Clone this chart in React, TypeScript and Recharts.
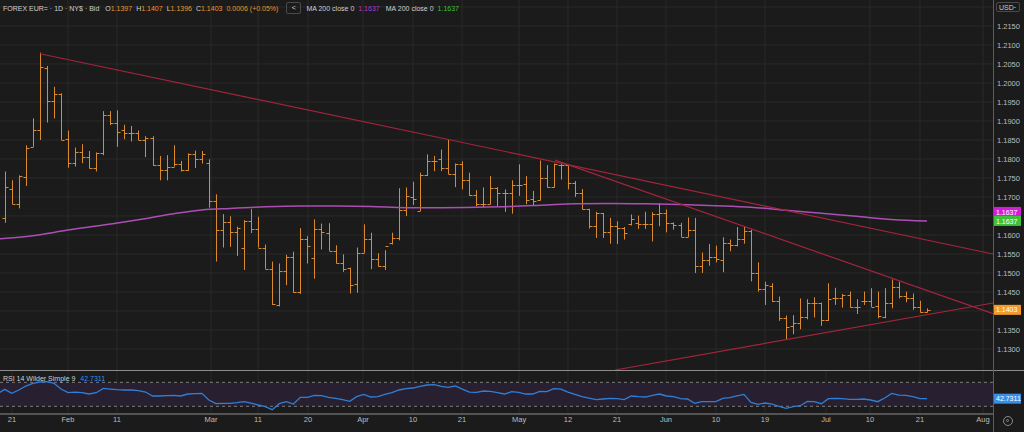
import {
  ComposedChart, Bar, Line, XAxis, YAxis, CartesianGrid,
  ReferenceLine, ReferenceArea,
} from 'recharts'

// daily OHLC, bar 0 is the first visible bar
const opens = [
  1.1646, 1.1722, 1.1682, 1.1753, 1.1832, 1.1875, 1.2040, 1.1953, 1.1972, 1.1852,
  1.1790, 1.1819, 1.1806, 1.1775, 1.1817, 1.1915, 1.1894, 1.1876, 1.1869, 1.1869,
  1.1851, 1.1854, 1.1783, 1.1772, 1.1780, 1.1786, 1.1770, 1.1812, 1.1799, 1.1790,
  1.1689, 1.1613, 1.1633, 1.1609, 1.1567, 1.1638, 1.1615, 1.1567, 1.1511, 1.1415,
  1.1505, 1.1542, 1.1451, 1.1589, 1.1540, 1.1615, 1.1606, 1.1558, 1.1527, 1.1512,
  1.1470, 1.1553, 1.1589, 1.1538, 1.1518, 1.1578, 1.1593, 1.1665, 1.1700, 1.1663,
  1.1758, 1.1796, 1.1801, 1.1777, 1.1761, 1.1786, 1.1744, 1.1704, 1.1682, 1.1682,
  1.1723, 1.1711, 1.1711, 1.1732, 1.1735, 1.1694, 1.1691, 1.1751, 1.1725, 1.1784,
  1.1784, 1.1737, 1.1711, 1.1668, 1.1623, 1.1658, 1.1607, 1.1623, 1.1618, 1.1630,
  1.1632, 1.1630, 1.1630, 1.1654, 1.1658, 1.1632, 1.1627, 1.1596, 1.1614, 1.1519,
  1.1535, 1.1542, 1.1535, 1.1579, 1.1573, 1.1590, 1.1610, 1.1499, 1.1457, 1.1467,
  1.1425, 1.1381, 1.1361, 1.1369, 1.1385, 1.1420, 1.1422, 1.1375, 1.1433, 1.1433,
  1.1442, 1.1411, 1.1425, 1.1425, 1.1413, 1.1385, 1.1420, 1.1464, 1.1439, 1.1433,
  1.1411, 1.1397,
]
const highs = [
  1.1767, 1.1744, 1.1757, 1.1836, 1.1907, 1.2080, 1.2045, 1.1990, 1.1973, 1.1875,
  1.1830, 1.1839, 1.1821, 1.1817, 1.1926, 1.1926, 1.1928, 1.1890, 1.1887, 1.1875,
  1.1860, 1.1860, 1.1808, 1.1810, 1.1836, 1.1795, 1.1815, 1.1822, 1.1821, 1.1799,
  1.1707, 1.1655, 1.1649, 1.1622, 1.1639, 1.1668, 1.1648, 1.1575, 1.1530, 1.1525,
  1.1548, 1.1556, 1.1618, 1.1597, 1.1641, 1.1630, 1.1631, 1.1573, 1.1549, 1.1514,
  1.1567, 1.1628, 1.1606, 1.1552, 1.1560, 1.1606, 1.1723, 1.1725, 1.1740, 1.1764,
  1.1812, 1.1808, 1.1825, 1.1852, 1.1788, 1.1794, 1.1764, 1.1718, 1.1725, 1.1755,
  1.1726, 1.1720, 1.1744, 1.1786, 1.1755, 1.1716, 1.1796, 1.1784, 1.1788, 1.1790,
  1.1786, 1.1742, 1.1721, 1.1669, 1.1661, 1.1658, 1.1645, 1.1636, 1.1621, 1.1654,
  1.1651, 1.1661, 1.1660, 1.1684, 1.1667, 1.1633, 1.1632, 1.1646, 1.1645, 1.1554,
  1.1576, 1.1572, 1.1594, 1.1588, 1.1621, 1.1621, 1.1614, 1.1528, 1.1477, 1.1473,
  1.1438, 1.1388, 1.1389, 1.1433, 1.1431, 1.1436, 1.1422, 1.1473, 1.1461, 1.1445,
  1.1451, 1.1431, 1.1451, 1.1460, 1.1451, 1.1460, 1.1483, 1.1477, 1.1451, 1.1446,
  1.1427, 1.1407,
]
const lows = [
  1.1632, 1.1681, 1.1670, 1.1729, 1.1832, 1.1850, 1.1896, 1.1907, 1.1850, 1.1777,
  1.1780, 1.1789, 1.1775, 1.1767, 1.1810, 1.1889, 1.1832, 1.1852, 1.1846, 1.1850,
  1.1805, 1.1782, 1.1744, 1.1744, 1.1780, 1.1767, 1.1769, 1.1776, 1.1788, 1.1672,
  1.1530, 1.1567, 1.1569, 1.1545, 1.1508, 1.1605, 1.1567, 1.1511, 1.1416, 1.1412,
  1.1468, 1.1448, 1.1445, 1.1525, 1.1485, 1.1562, 1.1558, 1.1525, 1.1503, 1.1446,
  1.1448, 1.1553, 1.1510, 1.1517, 1.1508, 1.1575, 1.1586, 1.1650, 1.1679, 1.1663,
  1.1755, 1.1768, 1.1768, 1.1760, 1.1726, 1.1720, 1.1703, 1.1676, 1.1672, 1.1681,
  1.1676, 1.1661, 1.1656, 1.1703, 1.1681, 1.1676, 1.1691, 1.1725, 1.1725, 1.1746,
  1.1720, 1.1700, 1.1667, 1.1617, 1.1592, 1.1592, 1.1577, 1.1576, 1.1588, 1.1625,
  1.1616, 1.1616, 1.1583, 1.1623, 1.1607, 1.1614, 1.1595, 1.1595, 1.1500, 1.1500,
  1.1519, 1.1528, 1.1502, 1.1557, 1.1570, 1.1577, 1.1478, 1.1451, 1.1416, 1.1424,
  1.1374, 1.1325, 1.1339, 1.1352, 1.1378, 1.1383, 1.1361, 1.1374, 1.1416, 1.1409,
  1.1409, 1.1392, 1.1416, 1.1411, 1.1381, 1.1381, 1.1407, 1.1433, 1.1423, 1.1403,
  1.1396, 1.1396,
]
const closes = [
  1.1725, 1.1682, 1.1755, 1.1828, 1.1875, 1.2042, 1.1953, 1.1970, 1.1850, 1.1790,
  1.1819, 1.1806, 1.1775, 1.1817, 1.1915, 1.1894, 1.1872, 1.1869, 1.1869, 1.1851,
  1.1854, 1.1783, 1.1772, 1.1780, 1.1786, 1.1770, 1.1812, 1.1799, 1.1814, 1.1689,
  1.1613, 1.1633, 1.1609, 1.1619, 1.1638, 1.1615, 1.1567, 1.1511, 1.1418, 1.1504,
  1.1542, 1.1451, 1.1589, 1.1571, 1.1615, 1.1609, 1.1558, 1.1527, 1.1510, 1.1468,
  1.1553, 1.1589, 1.1538, 1.1518, 1.1570, 1.1593, 1.1665, 1.1703, 1.1696, 1.1758,
  1.1796, 1.1796, 1.1777, 1.1761, 1.1786, 1.1744, 1.1704, 1.1682, 1.1682, 1.1723,
  1.1711, 1.1711, 1.1732, 1.1732, 1.1691, 1.1689, 1.1749, 1.1726, 1.1786, 1.1784,
  1.1737, 1.1711, 1.1668, 1.1623, 1.1658, 1.1607, 1.1623, 1.1618, 1.1605, 1.1642,
  1.1630, 1.1630, 1.1654, 1.1658, 1.1632, 1.1627, 1.1596, 1.1614, 1.1519, 1.1535,
  1.1542, 1.1537, 1.1579, 1.1573, 1.1590, 1.1610, 1.1499, 1.1457, 1.1468, 1.1425,
  1.1381, 1.1357, 1.1369, 1.1383, 1.1420, 1.1422, 1.1375, 1.1431, 1.1433, 1.1442,
  1.1411, 1.1411, 1.1425, 1.1411, 1.1387, 1.1420, 1.1464, 1.1439, 1.1433, 1.1411,
  1.1398, 1.1403,
]
const rsiValues = [
  58.3, 51.6, 57.2, 63.8, 68.3, 70.5, 71.1, 68.3, 58.8, 52.7,
  53.8, 52.7, 50.5, 52.7, 59.9, 58.8, 57.7, 57.2, 57.2, 56.1,
  53.8, 47.2, 47.2, 47.7, 48.3, 47.2, 50.5, 51.1, 51.6, 40.5,
  34.4, 35.0, 35.0, 36.1, 37.7, 35.5, 32.2, 29.4, 24.4, 34.4,
  37.7, 33.8, 44.9, 44.9, 48.3, 47.7, 44.9, 43.3, 41.1, 38.3,
  46.1, 49.9, 45.5, 46.1, 49.9, 52.7, 57.2, 59.4, 60.5, 63.3,
  65.5, 66.0, 63.3, 61.6, 63.8, 58.8, 53.8, 53.3, 55.5, 54.9,
  52.7, 50.5, 54.4, 53.3, 50.5, 50.5, 54.9, 54.4, 59.4, 58.8,
  53.8, 49.9, 46.1, 43.8, 41.1, 42.2, 43.3, 42.7, 41.1, 47.2,
  46.1, 45.5, 48.3, 50.5, 47.2, 46.1, 42.7, 42.2, 35.0, 37.7,
  37.7, 37.7, 43.3, 44.4, 47.2, 49.9, 36.6, 33.3, 35.5, 33.8,
  30.0, 26.6, 29.4, 31.0, 38.3, 37.7, 34.4, 42.7, 43.3, 42.7,
  41.6, 41.6, 42.2, 40.5, 37.7, 43.8, 51.6, 48.8, 48.3, 46.1,
  42.7, 42.7,
]

// MA 200 read at a handful of bars
const maBars = [-1, 4, 9, 14, 19, 24, 28, 32, 37, 42, 47, 52, 57, 62, 67, 72, 77, 81, 86, 91, 96, 101, 106, 111, 116, 121, 126, 131]
const maValues = [
  1.1590, 1.1598, 1.1613, 1.1626, 1.1640, 1.1656, 1.1666, 1.1670, 1.1674, 1.1676,
  1.1676, 1.1675, 1.1672, 1.1672, 1.1673, 1.1675, 1.1679, 1.1682, 1.1683, 1.1682,
  1.1680, 1.1677, 1.1673, 1.1665, 1.1657, 1.1649, 1.1641, 1.1637,
]

const tickBars = [1.04, 8.99, 15.95, 29.3, 35.98, 43.08, 50.89, 58, 64.96, 73.06, 80.01, 86.97, 93.93, 101.04, 108, 116.66, 122.91, 130.01, 138.96]
const tickLabels = ['21', 'Feb', '11', 'Mar', '11', '20', 'Apr', '10', '21', 'May', '12', '21', 'Jun', '10', '19', 'Jul', '10', '21', 'Aug']

const priceTicks = [1.215, 1.21, 1.205, 1.2, 1.195, 1.19, 1.185, 1.18, 1.175, 1.17, 1.16, 1.155, 1.15, 1.145, 1.135, 1.13]
const priceGrid = [1.22, 1.215, 1.21, 1.205, 1.2, 1.195, 1.19, 1.185, 1.18, 1.175, 1.17, 1.165, 1.16, 1.155, 1.15, 1.145, 1.14, 1.135, 1.13]

// trend lines: [bar, price] endpoints
const trendLines = [
  [[5.01, 1.2077], [140.38, 1.155]],
  [[78.17, 1.1797], [140.38, 1.1393]],
  [[86.69, 1.12447], [140.38, 1.1421]],
]

const maLast = 1.1637
const lastClose = 1.1403
const rsiLast = 42.7311

const BG = '#1b1b1b'
const GRID = '#2a2a2a'
const BAR = '#db8a2e'
const TREND = '#a3243d'
const AXIS_TEXT = '#bdbdbd'
const HDR_TEXT = '#cfcfcf'
const ORANGE = '#e8952e'
const FONT = '"Liberation Sans", Arial, sans-serif'
const X_DOMAIN = [-0.668, 140.38]

const maMap = new Map(maBars.map((b, k) => [b, maValues[k]]))
const rows = [
  { i: -1, ma: maMap.get(-1), rsi: 51.0 },
  ...opens.map((o, i) => ({
    i, o, h: highs[i], l: lows[i], c: closes[i],
    rsi: rsiValues[i],
    ma: maMap.has(i) ? maMap.get(i) : null,
  })),
]

function OhlcBar(props: any) {
  const { x, y, width, height, payload } = props
  if (!payload || payload.h == null || !isFinite(y) || !isFinite(height)) return <g />
  const cx = Math.round(x + width / 2) + 0.5
  const top = Math.min(y, y + height)
  const bottom = Math.max(y, y + height)
  const span = payload.h - payload.l || 1e-9
  const at = (v: number) => Math.round(top + ((payload.h - v) / span) * (bottom - top)) + 0.5
  return (
    <g stroke={BAR} strokeWidth={1}>
      <line x1={cx} x2={cx} y1={top} y2={Math.max(bottom, top + 1)} />
      <line x1={cx - 3} x2={cx} y1={at(payload.o)} y2={at(payload.o)} />
      <line x1={cx} x2={cx + 3} y1={at(payload.c)} y2={at(payload.c)} />
    </g>
  )
}

function ValueTag(props: any) {
  const { viewBox, text, fill, color = '#fff', dy = 0 } = props
  if (!viewBox) return null
  const x = viewBox.x + viewBox.width + 1
  const y = viewBox.y + dy
  return (
    <g>
      <rect x={x} y={y - 5} width={27} height={10} fill={fill} />
      <text x={x + 2} y={y + 2.6} fontSize={7} fill={color} fontFamily={FONT}>{text}</text>
    </g>
  )
}

export default function App() {
  return (
    <div style={{ position: 'fixed', left: 0, top: 0, width: 1024, height: 432, background: BG, overflow: 'hidden', fontFamily: FONT }}>
      <div style={{ position: 'absolute', left: 0, top: 0 }}>
        <ComposedChart width={1024} height={370} data={rows} margin={{ top: 0, right: 0, bottom: 0, left: 0 }}>
          <CartesianGrid stroke={GRID} horizontalValues={priceGrid} verticalValues={tickBars} />
          <XAxis dataKey="i" type="number" domain={X_DOMAIN} allowDataOverflow hide />
          <YAxis
            orientation="right" width={31} domain={[1.12447, 1.22184]} allowDataOverflow
            ticks={priceTicks} interval={0} tickFormatter={(v: number) => v.toFixed(4)}
            tick={{ fill: AXIS_TEXT, fontSize: 7.5, fontFamily: FONT }}
            tickLine={false} axisLine={false} tickSize={0} tickMargin={4}
          />
          <Line dataKey="ma" type="monotone" stroke="#ab4fb3" strokeWidth={1.5} dot={false} connectNulls isAnimationActive={false} />
          <Bar dataKey={(d: any) => (d.h == null ? null : [d.l, d.h])} barSize={7} shape={<OhlcBar />} isAnimationActive={false} />
          {trendLines.map((t, k) => (
            <ReferenceLine key={k} segment={[{ x: t[0][0], y: t[0][1] }, { x: t[1][0], y: t[1][1] }]} stroke={TREND} strokeWidth={1.2} ifOverflow="visible" />
          ))}
          <ReferenceLine y={maLast} stroke="none" ifOverflow="visible" label={<ValueTag text="1.1637" fill="#d41ed6" dy={-9} />} />
          <ReferenceLine y={maLast} stroke="none" ifOverflow="visible" label={<ValueTag text="1.1637" fill="#3fbf3a" />} />
          <ReferenceLine y={lastClose} stroke="none" ifOverflow="visible" label={<ValueTag text="1.1403" fill="#f39a2c" />} />
        </ComposedChart>
      </div>

      <div style={{ position: 'absolute', left: 0, top: 370 }}>
        <ComposedChart width={1024} height={62} data={rows} margin={{ top: 0, right: 0, bottom: 0, left: 0 }}>
          <CartesianGrid stroke={GRID} horizontal={false} verticalValues={tickBars} />
          <XAxis
            dataKey="i" type="number" domain={X_DOMAIN} allowDataOverflow
            ticks={tickBars} interval={0}
            tickFormatter={(v: number) => tickLabels[tickBars.indexOf(v)] ?? ''}
            tick={{ fill: AXIS_TEXT, fontSize: 7.5, fontFamily: FONT }}
            tickLine={false} axisLine={{ stroke: '#8c8c8c' }} tickSize={0} tickMargin={3} height={18}
          />
          <YAxis
            orientation="right" width={31} domain={[17.2, 90.5]} allowDataOverflow
            ticks={[80]} tickFormatter={(v: number) => v.toFixed(4)}
            tick={{ fill: AXIS_TEXT, fontSize: 7.5, fontFamily: FONT }}
            tickLine={false} axisLine={false} tickSize={0} tickMargin={4}
          />
          <ReferenceArea y1={30} y2={70} fill="#282030" fillOpacity={1} stroke="none" />
          <ReferenceLine y={70} stroke="#7c7c7c" strokeDasharray="3 3" />
          <ReferenceLine y={30} stroke="#7c7c7c" strokeDasharray="3 3" />
          <Line dataKey="rsi" type="linear" stroke="#2f7fd6" strokeWidth={1.3} dot={false} isAnimationActive={false} />
          <ReferenceLine y={rsiLast} stroke="none" ifOverflow="visible" label={<ValueTag text="42.7311" fill="#3a8ee6" />} />
        </ComposedChart>
      </div>

      {/* pane separators and right axis border */}
      <div style={{ position: 'absolute', left: 0, top: 370, width: 1024, height: 1, background: '#8c8c8c' }} />
      <div style={{ position: 'absolute', left: 993, top: 0, width: 1, height: 432, background: '#5c5c5c' }} />

      {/* header */}
      <div style={{ position: 'absolute', left: 3, top: 2, height: 12, display: 'flex', alignItems: 'center', fontSize: 7, whiteSpace: 'nowrap', color: HDR_TEXT }}>
        <span style={{ marginRight: 6 }}>FOREX EUR= · 1D · NY$ · Bid</span>
        <span style={{ marginRight: 4 }}>O<span style={{ color: ORANGE }}>1.1397</span></span>
        <span style={{ marginRight: 4 }}>H<span style={{ color: ORANGE }}>1.1407</span></span>
        <span style={{ marginRight: 4 }}>L<span style={{ color: ORANGE }}>1.1396</span></span>
        <span style={{ marginRight: 4 }}>C<span style={{ color: ORANGE }}>1.1403</span></span>
        <span style={{ marginRight: 8, color: ORANGE }}>0.0006 (+0.05%)</span>
        <span style={{ width: 13, height: 10, border: '1px solid #4a4a4a', borderRadius: 2, textAlign: 'center', lineHeight: '10px', marginRight: 5 }}>&lt;</span>
        <span style={{ marginRight: 4 }}>MA 200 close 0</span>
        <span style={{ marginRight: 6, color: '#b23ac0' }}>1.1637</span>
        <span style={{ marginRight: 4 }}>MA 200 close 0</span>
        <span style={{ color: '#3fbf3a' }}>1.1637</span>
      </div>
      <div style={{ position: 'absolute', left: 996, top: 2, width: 24, height: 10, border: '1px solid #4a4a4a', borderRadius: 2, fontSize: 7, color: HDR_TEXT, lineHeight: '10px', paddingLeft: 2, boxSizing: 'border-box' }}>
        USD<span style={{ position: 'absolute', right: 3, top: -1 }}>-</span>
      </div>

      {/* RSI legend */}
      <div style={{ position: 'absolute', left: 3, top: 375, fontSize: 7, whiteSpace: 'nowrap', color: HDR_TEXT }}>
        RSI 14 Wilder Simple 9 <span style={{ color: '#3a8ee6', marginLeft: 3 }}>42.7311</span>
      </div>

      {/* settings glyph */}
      <div style={{ position: 'absolute', left: 1003, top: 416, width: 8, height: 8, border: '1px solid #8a8a8a', borderRadius: '50%' }}>
        <div style={{ position: 'absolute', left: 2, top: 2, width: 3, height: 3, border: '1px solid #8a8a8a', borderRadius: '50%', boxSizing: 'border-box' }} />
      </div>
    </div>
  )
}
